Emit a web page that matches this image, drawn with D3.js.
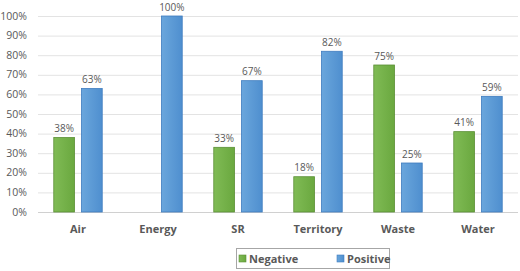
<!DOCTYPE html>
<html>
<head>
<meta charset="utf-8">
<script src="https://cdn.jsdelivr.net/npm/d3@7"></script>
<style>
  body { margin: 0; background: #fff; }
  text { font-family: "Open Sans", "Liberation Sans", sans-serif; fill: #595959; }
</style>
</head>
<body>
<div id="chart"></div>
<script>
let categories = ['Air', 'Energy', 'SR', 'Territory', 'Waste', 'Water']
let negative = [38, 0, 33, 18, 75, 41]
let positive = [63, 100, 67, 82, 25, 59]
let seriesNames = ['Negative', 'Positive']
let yTicks = [0, 10, 20, 30, 40, 50, 60, 70, 80, 90, 100]

let margin = { top: 16, left: 38, right: 2, bottom: 59 }
let width = 520 - margin.left - margin.right
let height = 271 - margin.top - margin.bottom

let svg = d3.select('#chart')
  .append('svg')
  .attr('width', 520)
  .attr('height', 271)

let defs = svg.append('defs')
// excel-ish gradient fills
function grad(id, c1, c2) {
  let g = defs.append('linearGradient').attr('id', id)
    .attr('x1', 0).attr('y1', 0).attr('x2', 1).attr('y2', 0)
  g.append('stop').attr('offset', '0%').attr('stop-color', c1)
  g.append('stop').attr('offset', '100%').attr('stop-color', c2)
}
grad('gNeg', '#80bb55', '#6aa83f')
grad('gPos', '#6aa6dc', '#4f8fcf')

let g = svg.append('g')
  .attr('transform', 'translate(' + margin.left + ',' + margin.top + ')')

let x = d3.scaleBand().domain(categories).range([0, width]).paddingInner(0).paddingOuter(0)
let x1 = d3.scaleBand().domain(seriesNames).range([0, x.bandwidth()]).paddingInner(0.25).paddingOuter(0.57)
let y = d3.scaleLinear().domain([0, 100]).range([height, 0])

// gridlines
g.selectAll('.grid')
  .data(yTicks)
  .enter()
  .append('line')
  .attr('x1', 0)
  .attr('x2', width)
  .attr('y1', d => y(d) + 0.5)
  .attr('y2', d => y(d) + 0.5)
  .attr('stroke', d => d === 0 ? '#d0d0d0' : '#e3e3e3')

g.selectAll('.ytick')
  .data(yTicks)
  .enter()
  .append('text')
  .attr('x', -11)
  .attr('y', d => y(d))
  .attr('dy', '0.35em')
  .attr('text-anchor', 'end')
  .attr('font-size', 10.5)
  .text(d => d + '%')

let rows = categories.map((c, i) => ({ cat: c, vals: [negative[i], positive[i]] }))
let fills = ['url(#gNeg)', 'url(#gPos)']
let strokes = ['#5b8f35', '#3f7cbf']

let groups = g.selectAll('.cat')
  .data(rows)
  .enter()
  .append('g')
  .attr('transform', d => 'translate(' + x(d.cat) + ',0)')

groups.selectAll('rect')
  .data(d => d.vals.map((v, i) => ({ s: seriesNames[i], v: v, i: i })))
  .enter()
  .filter(d => d.v > 0)
  .append('rect')
  .attr('x', d => x1(d.s))
  .attr('width', x1.bandwidth())
  .attr('y', d => y(d.v))
  .attr('height', d => height - y(d.v))
  .attr('fill', d => fills[d.i])
  .attr('stroke', d => strokes[d.i])
  .attr('stroke-width', 0.8)

groups.selectAll('.lbl')
  .data(d => d.vals.map((v, i) => ({ s: seriesNames[i], v: v, i: i })))
  .enter()
  .filter(d => d.v > 0)
  .append('text')
  .attr('x', d => x1(d.s) + x1.bandwidth() / 2)
  .attr('y', d => y(d.v) - 5.5)
  .attr('text-anchor', 'middle')
  .attr('font-size', 10)
  .text(d => d.v + '%')

// category labels
g.selectAll('.xlab')
  .data(categories)
  .enter()
  .append('text')
  .attr('x', d => x(d) + x.bandwidth() / 2)
  .attr('y', height + 17)
  .attr('dy', '0.35em')
  .attr('text-anchor', 'middle')
  .attr('font-size', 11)
  .attr('font-weight', 'bold')
  .text(d => d)

// legend
let legend = svg.append('g').attr('transform', 'translate(236,248)')
legend.append('rect')
  .attr('x', 0.5).attr('y', 0.5)
  .attr('width', 153).attr('height', 20)
  .attr('fill', '#fff')
  .attr('stroke', '#a6a6a6')

let items = legend.selectAll('.item')
  .data(seriesNames)
  .enter()
  .append('g')
  .attr('transform', (d, i) => 'translate(' + (3 + i * 98) + ',0)')

items.append('rect')
  .attr('x', 0).attr('y', 7)
  .attr('width', 7).attr('height', 7)
  .attr('fill', (d, i) => fills[i])
  .attr('stroke', (d, i) => strokes[i])
  .attr('stroke-width', 0.6)

items.append('text')
  .attr('x', 10)
  .attr('y', 11)
  .attr('dy', '0.35em')
  .attr('font-size', 11)
  .attr('font-weight', 'bold')
  .text(d => d)
</script>
</body>
</html>
